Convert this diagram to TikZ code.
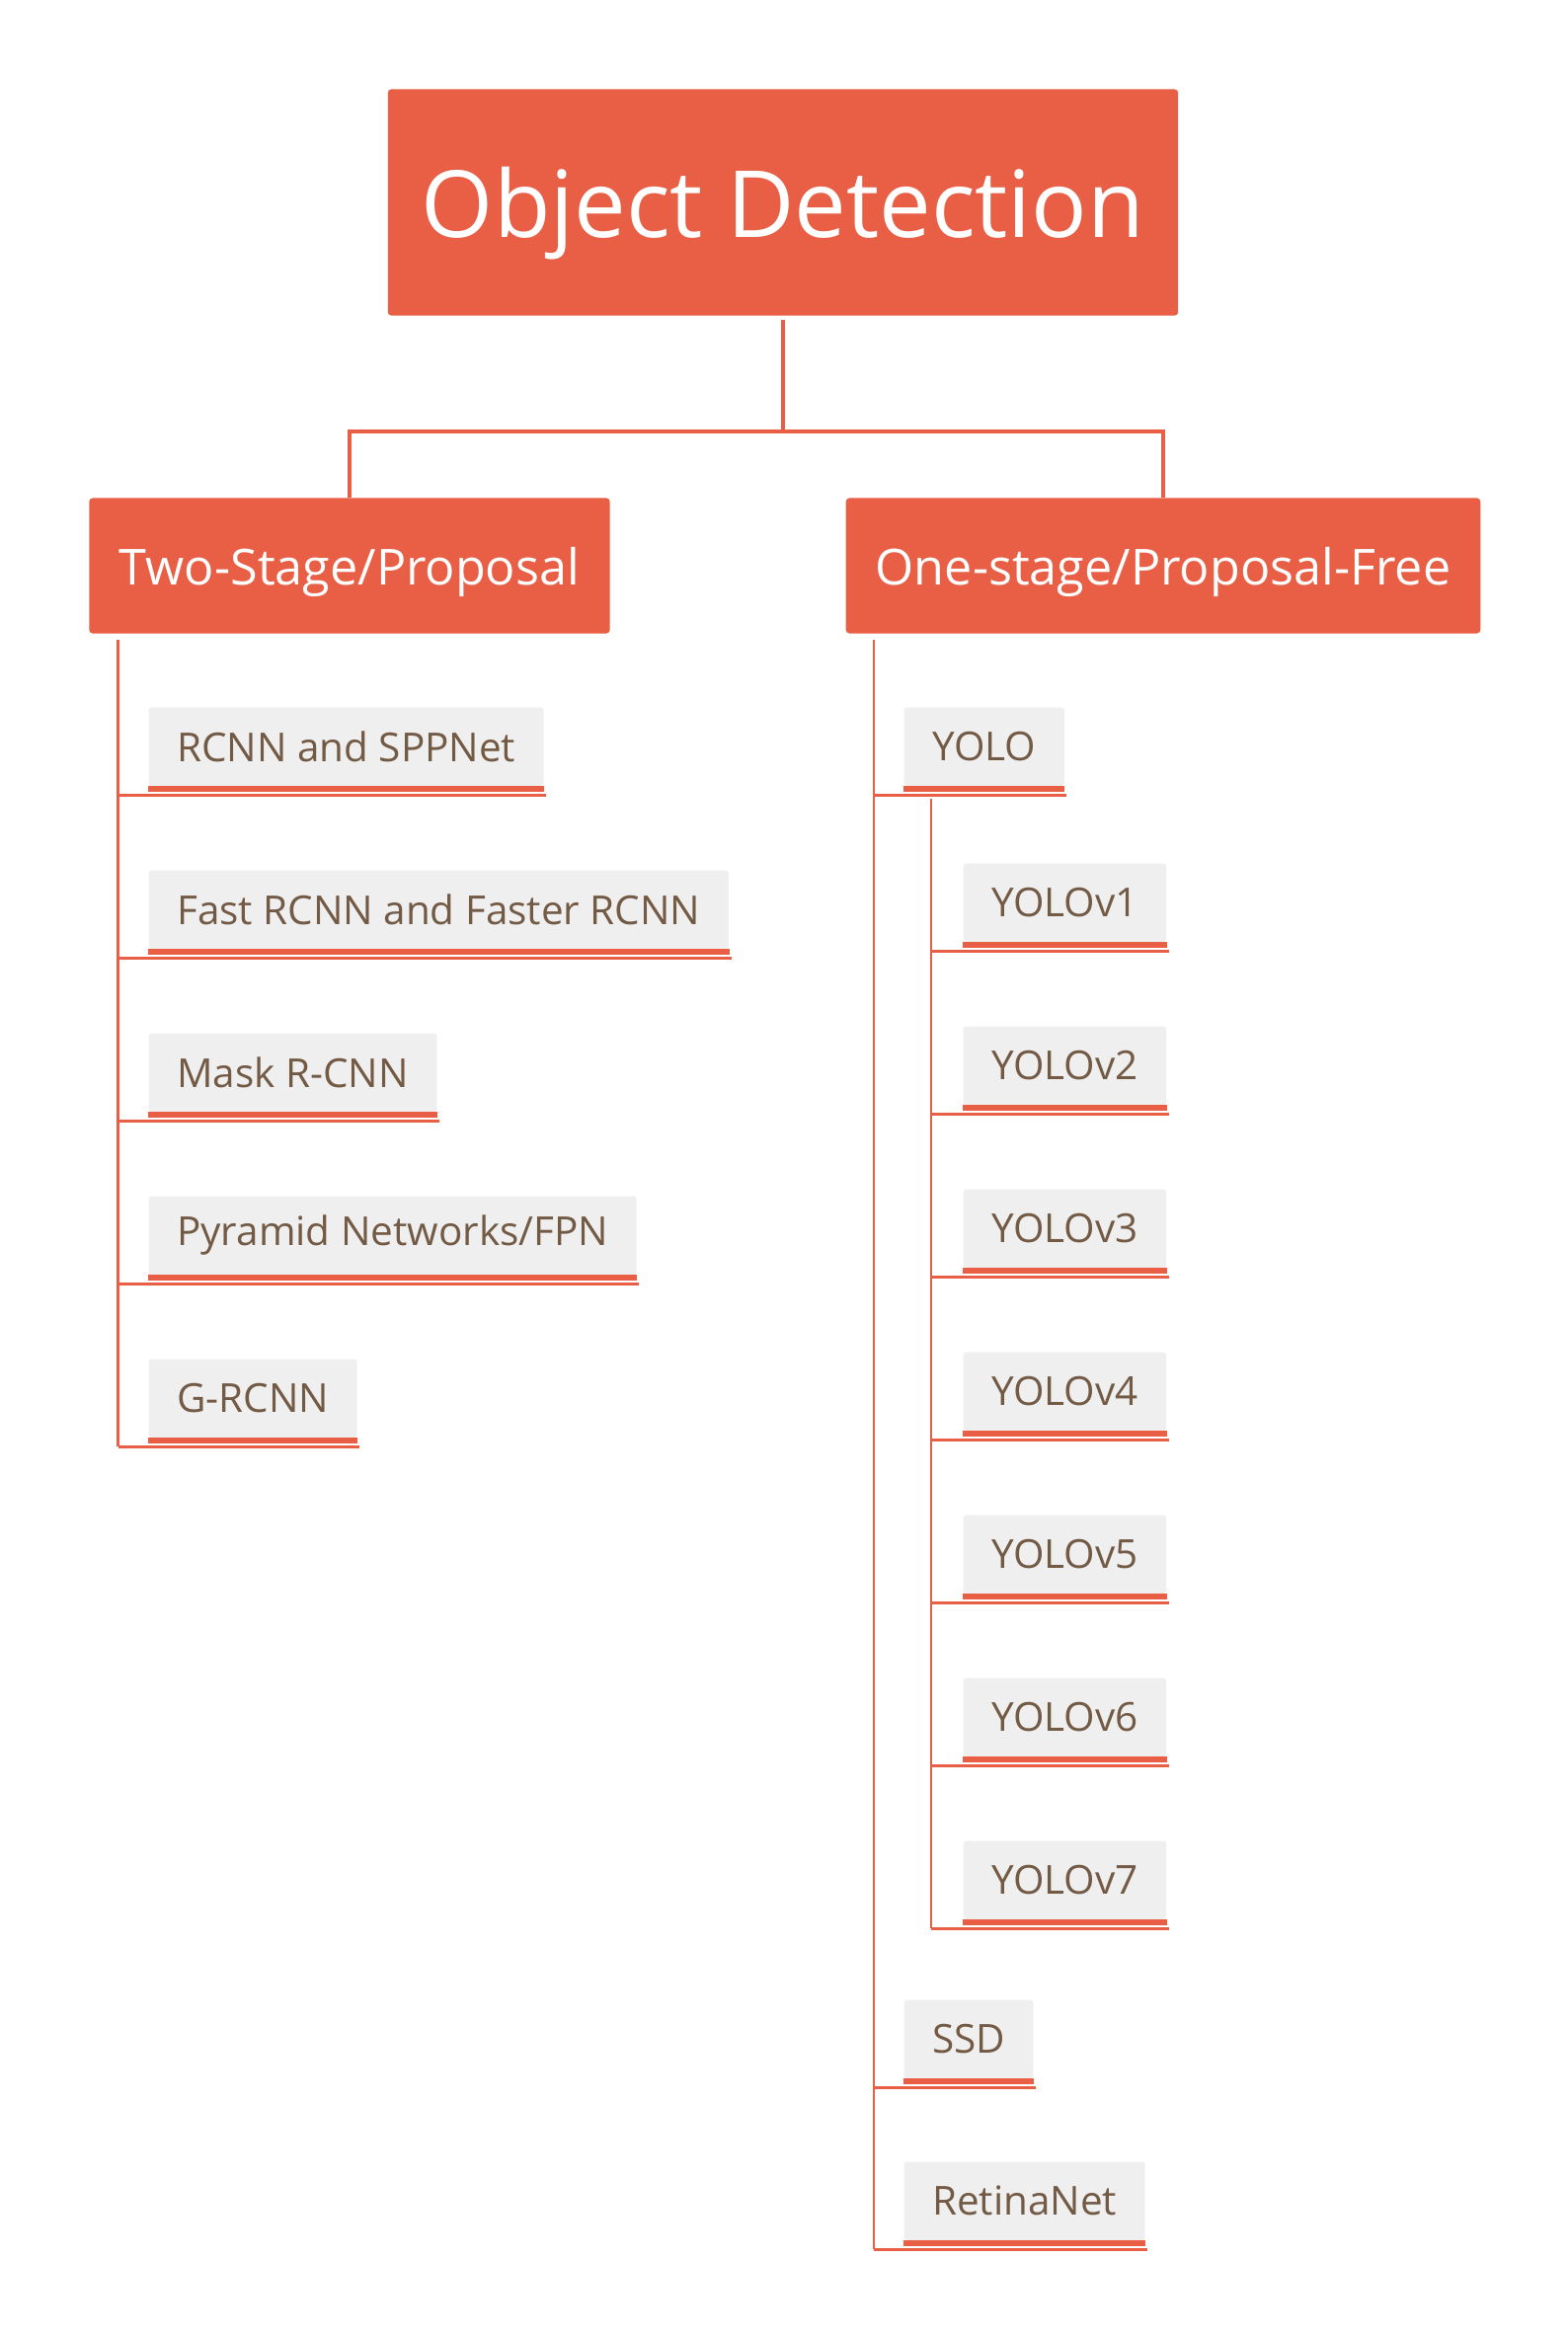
\documentclass[tikz,border=0pt]{standalone}
\usepackage{fontspec}
\setmainfont{Open Sans}
\definecolor{odRed}{HTML}{E95F45}
\definecolor{odGray}{HTML}{EFEFEF}
\definecolor{odText}{HTML}{735A45}
\tikzset{
  headbox/.style={fill=odRed, text=white, rounded corners=1pt, minimum width=8cm, minimum height=2.29cm, text depth=0pt, font=\fontsize{26.7}{30}\selectfont},
  catbox/.style={fill=odRed, text=white, rounded corners=1pt, minimum height=1.37cm, inner xsep=0.3cm, text depth=0pt, font=\fontsize{14.3}{16}\selectfont},
  itembox/.style={fill=odGray, text=odText, rounded corners=0.5pt, anchor=north west, minimum height=0.79cm, inner xsep=0.285cm, inner ysep=0pt, font=\fontsize{11.5}{14}\selectfont},
  branch/.style={draw=odRed, line width=0.045cm},
  twig/.style={draw=odRed, line width=0.027cm},
  bar/.style={draw=odRed, line width=0.06cm}
}
\begin{document}
\begin{tikzpicture}[x=0.01cm, y=-0.01cm]
        \useasboundingbox (0,0) rectangle (1587,2366);

        \node[headbox] (title) at (793,205) {Object Detection};
        \node[catbox, minimum width=5.27cm] (two) at (354,573) {Two-Stage/Proposal};
        \node[catbox, minimum width=6.42cm] (one) at (1178,573) {One-stage/Proposal-Free};

        \coordinate (fork) at (title.south |- 0,437);
        \draw[branch] ([yshift=-0.04cm]title.south) -- (fork);
        \draw[branch] (two.north) |- (fork) -| (one.north);

        \def\leafline#1#2{
          \draw[bar] ([yshift=-0.03cm]#1.south west) -- ([yshift=-0.03cm]#1.south east);
          \coordinate (#1-end) at ([xshift=0.02cm, yshift=-0.09cm]#1.south east);
          \draw[twig] (#2 |- #1-end) -- (#1-end);
        }

        \coordinate (twoTrunk) at ([xshift=0.3cm, yshift=-0.06cm]two.south west);
        \foreach \name/\lab [count=\i from 0] in {rcnn/RCNN and SPPNet, fast/Fast RCNN and Faster RCNN, mask/Mask R-CNN, fpn/{Pyramid Networks/FPN}, grcnn/G-RCNN}{
          \node[itembox] (\name) at (150,716+165*\i) {\lab};
          \leafline{\name}{twoTrunk}
        }
        \draw[twig] (twoTrunk) -- (twoTrunk |- grcnn-end);

        \coordinate (oneTrunk) at ([xshift=0.29cm, yshift=-0.06cm]one.south west);
        \node[itembox] (yolo) at (915,716) {YOLO};
        \leafline{yolo}{oneTrunk}
        \coordinate (yoloTrunk) at ([xshift=0.28cm, yshift=-0.13cm]yolo.south west);
        \foreach \v in {1,...,7}{
          \node[itembox] (v\v) at (975,709+165*\v) {YOLOv\v};
          \leafline{v\v}{yoloTrunk}
        }
        \draw[twig] (yoloTrunk) -- (yoloTrunk |- v7-end);

        \node[itembox] (ssd) at (915,2025) {SSD};
        \leafline{ssd}{oneTrunk}
        \node[itembox] (retina) at (915,2189) {RetinaNet};
        \leafline{retina}{oneTrunk}
        \draw[twig] (oneTrunk) -- (oneTrunk |- retina-end);
      \end{tikzpicture}
\end{document}
